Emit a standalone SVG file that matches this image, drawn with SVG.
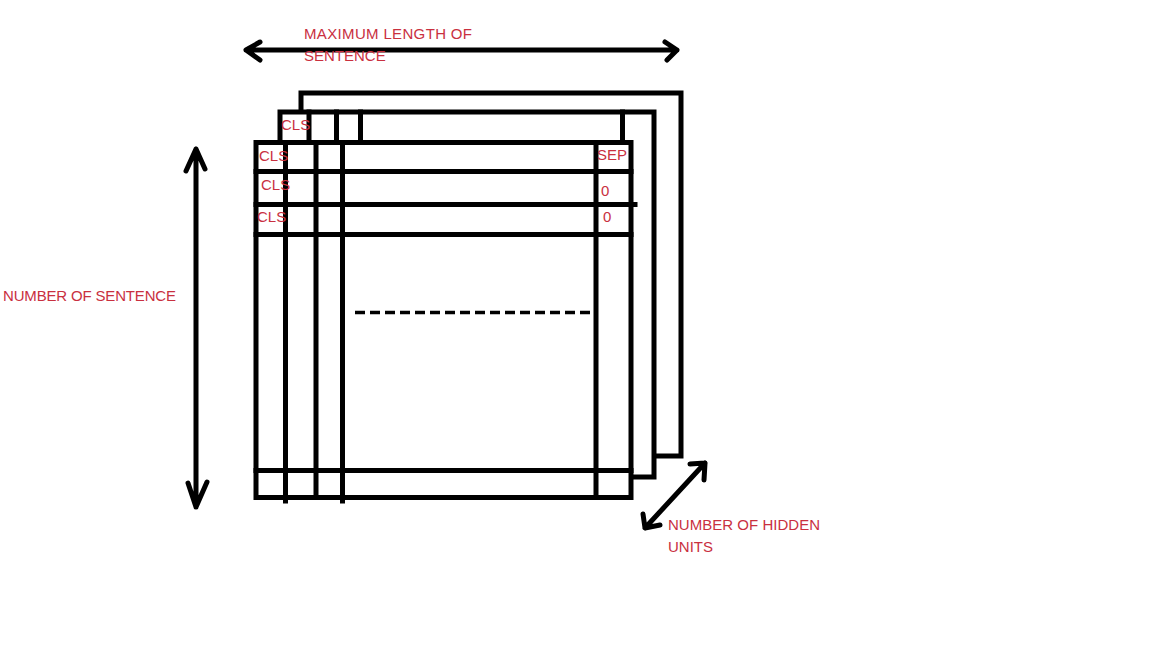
<svg xmlns="http://www.w3.org/2000/svg" width="1152" height="648" viewBox="0 0 1152 648">
<style>
.k{fill:none;stroke:#000;stroke-width:5;stroke-linecap:square}
.a{fill:none;stroke:#000;stroke-width:5;stroke-linecap:round;stroke-linejoin:round}
.t{font-family:"Liberation Sans",Arial,sans-serif;font-size:15px;fill:#c9303f}
</style>
<rect width="1152" height="648" fill="#fff"/>
<g id="back-layer">
<path class="k" d="M301,111 V93 H681 V456 H656"/>
</g>
<g id="middle-layer">
<path class="k" d="M280,141 V112 H654 V477 H633"/>
<path class="k" d="M309,112 V141 M336.5,112 V141 M360.5,112 V141 M622.5,112 V141"/>
<text class="t" x="281" y="130">CLS</text>
</g>
<g id="front-layer">
<rect class="k" x="256" y="142.5" width="375" height="355"/>
<path class="k" d="M285.5,143 V501 M316,143 V497 M342.5,143 V501 M596,143 V497"/>
<path class="k" d="M256,171.5 H631 M256,204.5 H635 M256,234.5 H631 M256,470.5 H631"/>
<path d="M355,312.5 H590" fill="none" stroke="#000" stroke-width="3.5" stroke-dasharray="10,5"/>
<text class="t" x="259" y="161">CLS</text>
<text class="t" x="261" y="190">CLS</text>
<text class="t" x="257" y="222">CLS</text>
<text class="t" x="597" y="160">SEP</text>
<text class="t" x="601" y="196">0</text>
<text class="t" x="603" y="222">0</text>
</g>
<g id="connectors">
<path class="a" d="M246,50 H677 M260,42 L246,50 L260,60 M665,42 L677,50 L667,60"/>
<path class="a" d="M196,149 V507 M186,171 L196,149 L205,169 M188,483 L196,507 L207,482"/>
<path class="a" d="M705,463 L645,528 M690,464 L705,463 L704,480 M643,514 L645,528 L660,525"/>
</g>
<g id="labels">
<text class="t" x="304" y="39" textLength="168">MAXIMUM LENGTH OF</text>
<text class="t" x="304" y="61">SENTENCE</text>
<text class="t" x="3" y="301" textLength="173">NUMBER OF SENTENCE</text>
<text class="t" x="668" y="530" textLength="152">NUMBER OF HIDDEN</text>
<text class="t" x="668" y="552">UNITS</text>
</g>
</svg>
